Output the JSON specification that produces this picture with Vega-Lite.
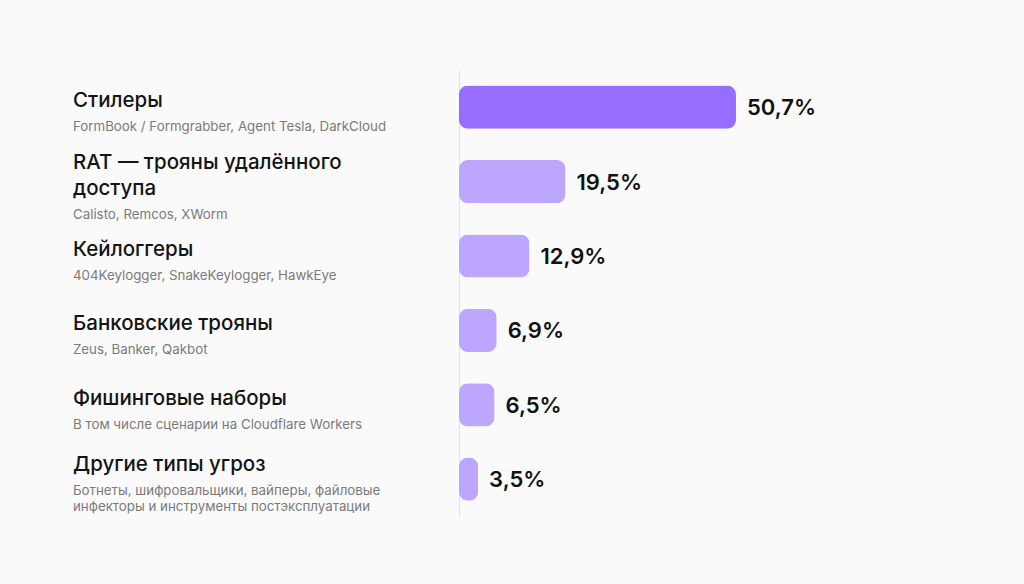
{
  "$schema": "https://vega.github.io/schema/vega-lite/v6.json",
  "description": "Распределение типов вредоносного ПО",
  "background": "#FAFAFA",
  "padding": {"left": 73, "top": 70, "right": 105, "bottom": 68},
  "config": {
    "view": {"stroke": null},
    "font": "Inter",
    "concat": {"spacing": 0}
  },
  "data": {
    "values": [
      {"category": "Стилеры", "title": "Стилеры", "sub": "FormBook / Formgrabber, Agent Tesla, DarkCloud", "value": 50.7, "label": "50,7%"},
      {"category": "RAT", "title": "RAT — трояны удалённого\nдоступа", "sub": "Calisto, Remcos, XWorm", "value": 19.5, "label": "19,5%"},
      {"category": "Кейлоггеры", "title": "Кейлоггеры", "sub": "404Keylogger, SnakeKeylogger, HawkEye", "value": 12.9, "label": "12,9%"},
      {"category": "Банковские трояны", "title": "Банковские трояны", "sub": "Zeus, Banker, Qakbot", "value": 6.9, "label": "6,9%"},
      {"category": "Фишинговые наборы", "title": "Фишинговые наборы", "sub": "В том числе сценарии на Cloudflare Workers", "value": 6.5, "label": "6,5%"},
      {"category": "Другие типы угроз", "title": "Другие типы угроз", "sub": "Ботнеты, шифровальщики, вайперы, файловые\nинфекторы и инструменты постэксплуатации", "value": 3.5, "label": "3,5%"}
    ]
  },
  "hconcat": [
    {
      "width": 386,
      "height": {"step": 74.4},
      "encoding": {
        "y": {
          "field": "category",
          "type": "nominal",
          "sort": null,
          "axis": null,
          "scale": {"type": "band", "paddingInner": 0.42, "paddingOuter": 0.21}
        },
        "x": {"datum": 0, "type": "quantitative", "scale": {"domain": [0, 1]}, "axis": null}
      },
      "layer": [
        {
          "mark": {
            "type": "text",
            "align": "left",
            "baseline": "bottom",
            "dy": {"expr": "4 - 13 * (length(split(datum.title, '\\n')) - 1) - 8 * (length(split(datum.sub, '\\n')) - 1)"},
            "fontSize": 20.5,
            "fontWeight": 500,
            "color": "#141414",
            "lineBreak": "\n",
            "lineHeight": 26
          },
          "encoding": {"text": {"field": "title"}}
        },
        {
          "mark": {
            "type": "text",
            "align": "left",
            "baseline": "top",
            "dy": {"expr": "13 + 13 * (length(split(datum.title, '\\n')) - 1) - 8 * (length(split(datum.sub, '\\n')) - 1)"},
            "fontSize": 13.3,
            "color": "#7a7a7a",
            "lineBreak": "\n",
            "lineHeight": 16
          },
          "encoding": {"text": {"field": "sub"}}
        }
      ]
    },
    {
      "width": 460,
      "height": {"step": 74.4},
      "encoding": {
        "y": {
          "field": "category",
          "type": "nominal",
          "sort": null,
          "scale": {"type": "band", "paddingInner": 0.42, "paddingOuter": 0.21},
          "axis": {"title": null, "labels": false, "ticks": false, "domainColor": "#e2e2e2", "domainWidth": 1}
        },
        "x": {"field": "value", "type": "quantitative", "scale": {"domain": [0, 84.2]}, "axis": null}
      },
      "layer": [
        {
          "mark": {"type": "bar", "cornerRadius": 9},
          "encoding": {
            "color": {
              "field": "category",
              "type": "nominal",
              "sort": null,
              "legend": null,
              "scale": {"range": ["#956EFF", "#BCA6FE", "#BCA6FE", "#BCA6FE", "#BCA6FE", "#BCA6FE"]}
            }
          }
        },
        {
          "mark": {
            "type": "text",
            "align": "left",
            "baseline": "middle",
            "dx": 11,
            "dy": 1,
            "fontSize": 22,
            "fontWeight": 600,
            "color": "#111111"
          },
          "encoding": {"text": {"field": "label"}}
        }
      ]
    }
  ]
}
